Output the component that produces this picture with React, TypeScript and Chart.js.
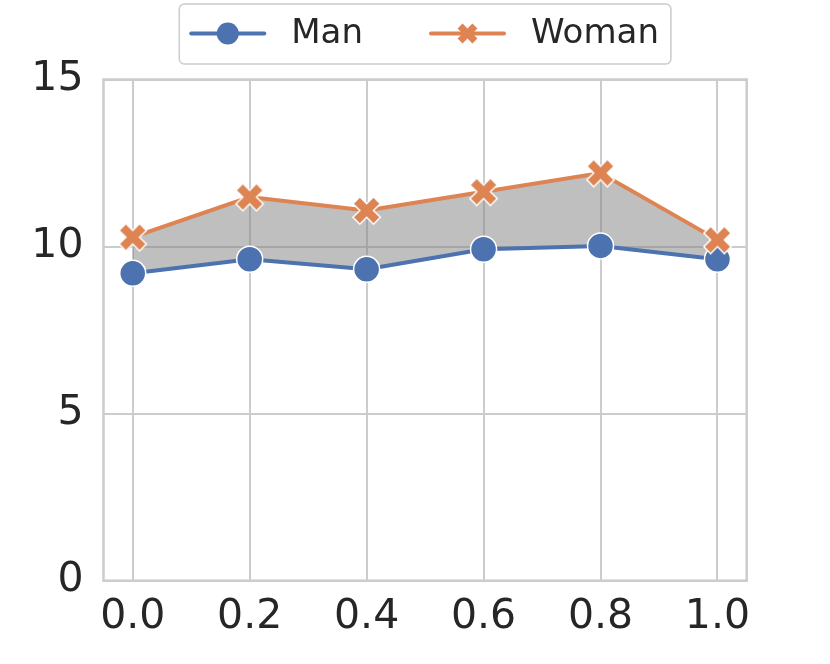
import React, { useEffect, useRef } from 'react';
import { Chart, registerables } from 'chart.js';

Chart.register(...registerables);

// Data
const xValues = [0.0, 0.2, 0.4, 0.6, 0.8, 1.0];
const manValues = [9.2, 9.62, 9.32, 9.92, 10.02, 9.62];
const womanValues = [10.28, 11.48, 11.08, 11.64, 12.2, 10.2];
const xTicks = [0.0, 0.2, 0.4, 0.6, 0.8, 1.0];
const yTicks = [0, 5, 10, 15];

const BLUE = '#4c72b0';
const ORANGE = '#dd8452';
const GRID = '#cccccc';
const TEXT = '#262626';
const FONT = '"DejaVu Sans", sans-serif';

// matplotlib-style filled "X" marker path
const xPath = (ctx: CanvasRenderingContext2D, cx: number, cy: number, size: number) => {
    const pts = [
        [-1, -3], [1, -3], [1, -1], [3, -1], [3, 1], [1, 1],
        [1, 3], [-1, 3], [-1, 1], [-3, 1], [-3, -1], [-1, -1],
    ];
    const c = Math.SQRT1_2;
    ctx.beginPath();
    pts.forEach(([px, py], i) => {
        const x = (px / 6) * size;
        const y = (py / 6) * size;
        const rx = cx + (x * c - y * c);
        const ry = cy + (x * c + y * c);
        if (i === 0) ctx.moveTo(rx, ry);
        else ctx.lineTo(rx, ry);
    });
    ctx.closePath();
};

const makeXMarker = (size: number) => {
    const cv = document.createElement('canvas');
    const dim = Math.ceil(size + 4);
    cv.width = dim;
    cv.height = dim;
    const ctx = cv.getContext('2d')!;
    xPath(ctx, dim / 2, dim / 2, size);
    ctx.fillStyle = ORANGE;
    ctx.fill();
    ctx.strokeStyle = '#ffffff';
    ctx.lineWidth = 1.5;
    ctx.lineJoin = 'miter';
    ctx.stroke();
    return cv;
};

const framePlugin = {
    id: 'frame',
    beforeDatasetsDraw(chart: Chart) {
        const { ctx, chartArea: a } = chart;
        ctx.save();
        ctx.strokeStyle = GRID;
        ctx.lineWidth = 2.5;
        ctx.strokeRect(a.left, a.top, a.right - a.left, a.bottom - a.top);
        ctx.restore();
    },
};

const legendPlugin = {
    id: 'boxLegend',
    afterDraw(chart: Chart) {
        const { ctx, chartArea: a } = chart;
        const items = [
            { label: 'Man', color: BLUE, marker: 'circle' },
            { label: 'Woman', color: ORANGE, marker: 'x' },
        ];
        ctx.save();
        ctx.font = `34px ${FONT}`;
        const handle = 73;
        const gapText = 27;
        const colGap = 68;
        const pad = 12;
        const widths = items.map(it => ctx.measureText(it.label).width);
        const total = pad * 2 + items.length * (handle + gapText) + widths.reduce((s, w) => s + w, 0) + colGap * (items.length - 1);
        const top = 4;
        const h = 60;
        const left = (a.left + a.right) / 2 - total / 2;
        // box
        ctx.beginPath();
        ctx.roundRect(left, top, total, h, 5);
        ctx.fillStyle = 'rgba(255,255,255,0.8)';
        ctx.fill();
        ctx.strokeStyle = GRID;
        ctx.lineWidth = 1.5;
        ctx.stroke();

        const cy = top + h / 2 - 0.5;
        let x = left + pad;
        items.forEach((it, i) => {
            ctx.strokeStyle = it.color;
            ctx.lineWidth = 4;
            ctx.lineCap = 'round';
            ctx.beginPath();
            ctx.moveTo(x, cy);
            ctx.lineTo(x + handle, cy);
            ctx.stroke();
            const mx = x + handle / 2;
            ctx.fillStyle = it.color;
            if (it.marker === 'circle') {
                ctx.beginPath();
                ctx.arc(mx, cy, 11, 0, Math.PI * 2);
                ctx.fill();
            } else {
                xPath(ctx, mx, cy, 21);
                ctx.fill();
            }
            ctx.fillStyle = TEXT;
            ctx.textAlign = 'left';
            ctx.textBaseline = 'middle';
            ctx.fillText(it.label, x + handle + gapText, cy + 1);
            x += handle + gapText + widths[i] + colGap;
        });
        ctx.restore();
    },
};

const App: React.FC = () => {
    const canvasRef = useRef<HTMLCanvasElement>(null);

    useEffect(() => {
        if (!canvasRef.current) return;
        const xMarker = makeXMarker(29);

        const chart = new Chart(canvasRef.current, {
            type: 'line',
            data: {
                datasets: [
                    {
                        label: 'Man',
                        data: xValues.map((x, i) => ({ x, y: manValues[i] })),
                        borderColor: BLUE,
                        borderWidth: 4,
                        pointStyle: 'circle',
                        pointRadius: 13,
                        pointBackgroundColor: BLUE,
                        pointBorderColor: '#ffffff',
                        pointBorderWidth: 1.5,
                        fill: false,
                        order: 1,
                    },
                    {
                        label: 'Woman',
                        data: xValues.map((x, i) => ({ x, y: womanValues[i] })),
                        borderColor: ORANGE,
                        borderWidth: 4,
                        pointStyle: xMarker,
                        pointRadius: 14,
                        backgroundColor: 'rgba(128,128,128,0.5)',
                        fill: '-1',
                        order: 0,
                    },
                ],
            },
            options: {
                responsive: true,
                maintainAspectRatio: false,
                animation: false,
                layout: { padding: { top: 79.5, right: 83.3, left: 0, bottom: 0 } },
                plugins: {
                    legend: { display: false },
                    tooltip: { enabled: false },
                    filler: { drawTime: 'beforeDatasetsDraw' },
                },
                scales: {
                    x: {
                        type: 'linear',
                        min: -0.05,
                        max: 1.05,
                        afterBuildTicks: (scale) => {
                            scale.ticks = xTicks.map(v => ({ value: v }));
                        },
                        afterFit: (scale) => {
                            scale.height = 83.3;
                        },
                        grid: { color: GRID, lineWidth: 2, drawTicks: false },
                        border: { display: false },
                        ticks: {
                            padding: 12,
                            color: TEXT,
                            font: { family: FONT, size: 41 },
                            maxRotation: 0,
                            callback: (v) => Number(v).toFixed(1),
                        },
                    },
                    y: {
                        min: 0,
                        max: 15,
                        afterBuildTicks: (scale) => {
                            scale.ticks = yTicks.map(v => ({ value: v }));
                        },
                        afterFit: (scale) => {
                            scale.width = 103.5;
                        },
                        grid: { color: GRID, lineWidth: 2, drawTicks: false },
                        border: { display: false },
                        ticks: {
                            padding: 20,
                            color: TEXT,
                            font: { family: FONT, size: 41 },
                        },
                    },
                },
            },
            plugins: [framePlugin, legendPlugin],
        });

        return () => chart.destroy();
    }, []);

    return (
        <div style={{ position: 'absolute', left: 0, top: 0, width: 830, height: 664, background: '#ffffff' }}>
            <canvas ref={canvasRef}></canvas>
        </div>
    );
};

export default App;
